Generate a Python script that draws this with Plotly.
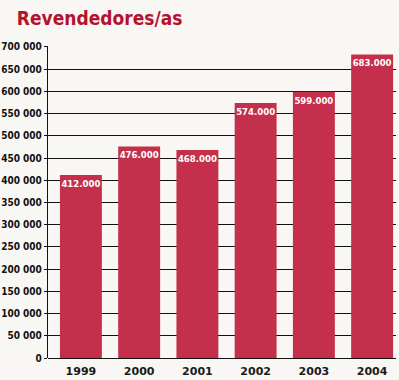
import plotly.graph_objects as go

years = ["1999", "2000", "2001", "2002", "2003", "2004"]
values = [412000, 476000, 468000, 574000, 599000, 683000]
value_labels = ["412.000", "476.000", "468.000", "574.000", "599.000", "683.000"]
tick_vals = list(range(0, 700001, 50000))
tick_text = ["0"] + [f"{v // 1000} 000" for v in tick_vals[1:]]

bar_color = "#c4304c"
bg = "#f8f7f3"
cond = "DejaVu Sans Condensed"

fig = go.Figure()
fig.add_trace(go.Bar(
    x=years, y=values, width=0.72,
    marker=dict(color=bar_color, line=dict(width=0)),
    text=value_labels, textposition="inside", insidetextanchor="end", textangle=0,
    constraintext="none",
    textfont=dict(family=cond, size=9.5, color="white", weight="bold"),
    cliponaxis=False, hoverinfo="skip",
))

fig.update_layout(
    width=399, height=380,
    paper_bgcolor=bg, plot_bgcolor=bg,
    margin=dict(l=48, r=3, t=46, b=22, autoexpand=False),
    showlegend=False,
    title=dict(text="<b>Revendedores/as</b>", x=0.042, xanchor="left", y=0.952, yanchor="middle",
               font=dict(family=cond, size=19, color="#b5122f")),
    xaxis=dict(type="category", range=[-0.565, 5.41], showgrid=False, showline=False,
               ticks="outside", ticklen=3, tickcolor=bg, automargin=False,
               tickfont=dict(family="DejaVu Sans", size=11, color="#1a1a1a", weight="bold")),
    yaxis=dict(range=[0, 702000], tickvals=tick_vals, ticktext=tick_text, automargin=False,
               showgrid=True, gridcolor="#111111", gridwidth=1,
               showline=True, linecolor="#111111", linewidth=1.3,
               zeroline=True, zerolinecolor="#111111", zerolinewidth=1.3,
               ticks="outside", ticklen=3, tickcolor="#111111",
               tickfont=dict(family=cond, size=10, color="#111111", weight="bold")),
    uniformtext=dict(minsize=8, mode="show"),
)

fig.write_html("out.html", config={"displayModeBar": False},
               post_script="document.body.style.margin='0';")
